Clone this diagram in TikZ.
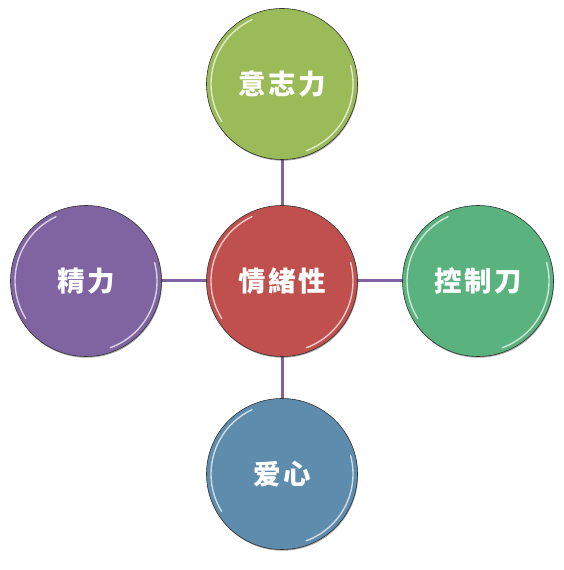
\documentclass[tikz,border=0pt]{standalone}
\usepackage{fontspec}
\newfontfamily\cjk[LetterSpace=10]{Noto Sans CJK TC}
\usetikzlibrary{shadows}
\definecolor{cgreen}{HTML}{9BBB59}
\definecolor{cred}{HTML}{C0504D}
\definecolor{cpurple}{HTML}{8064A2}
\definecolor{cteal}{HTML}{5AB27F}
\definecolor{cblue}{HTML}{5E8CAD}
\definecolor{cline}{HTML}{8064A2}
\tikzset{
  bubble/.style={circle, minimum size=151pt, inner sep=0pt, draw=black!80, line width=0.6pt,
    text=white, font=\cjk\bfseries\fontsize{27.5}{27.5}\selectfont,
    drop shadow={shadow xshift=0.6pt, shadow yshift=-1.2pt, opacity=0.35, fill=black}},
  link/.style={draw=cline, line width=3pt},
  gloss/.style={white, line width=1.4pt, opacity=0.7, line cap=round}
}
\newcommand{\glossy}[1]{%
  \draw[gloss] (#1) ++(212:71pt) arc[start angle=212, end angle=115, radius=71pt];
  \draw[gloss] (#1) ++(-70:71pt) arc[start angle=-70, end angle=15, radius=71pt];
}
\begin{document}
\begin{tikzpicture}[x=1pt,y=1pt]
\useasboundingbox (0,0) rectangle (564,570);
\fill[white] (0,0) rectangle (564,570);
\coordinate (pc) at (282,289);
\coordinate (pt) at (282,486);
\coordinate (pl) at (86,289);
\coordinate (pr) at (478,289);
\coordinate (pb) at (282,96);
\draw[link] (pc) -- (pt);
\draw[link] (pc) -- (pl);
\draw[link] (pc) -- (pr);
\draw[link] (pc) -- (pb);
\node[bubble, fill=cgreen] (top) at (pt) {意志力};
\node[bubble, fill=cpurple] (left) at (pl) {精力};
\node[bubble, fill=cteal] (right) at (pr) {控制刀};
\node[bubble, fill=cblue] (bottom) at (pb) {爱心};
\node[bubble, fill=cred] (center) at (pc) {情緒性};
\glossy{pt}
\glossy{pl}
\glossy{pr}
\glossy{pb}
\glossy{pc}
\end{tikzpicture}
\end{document}
